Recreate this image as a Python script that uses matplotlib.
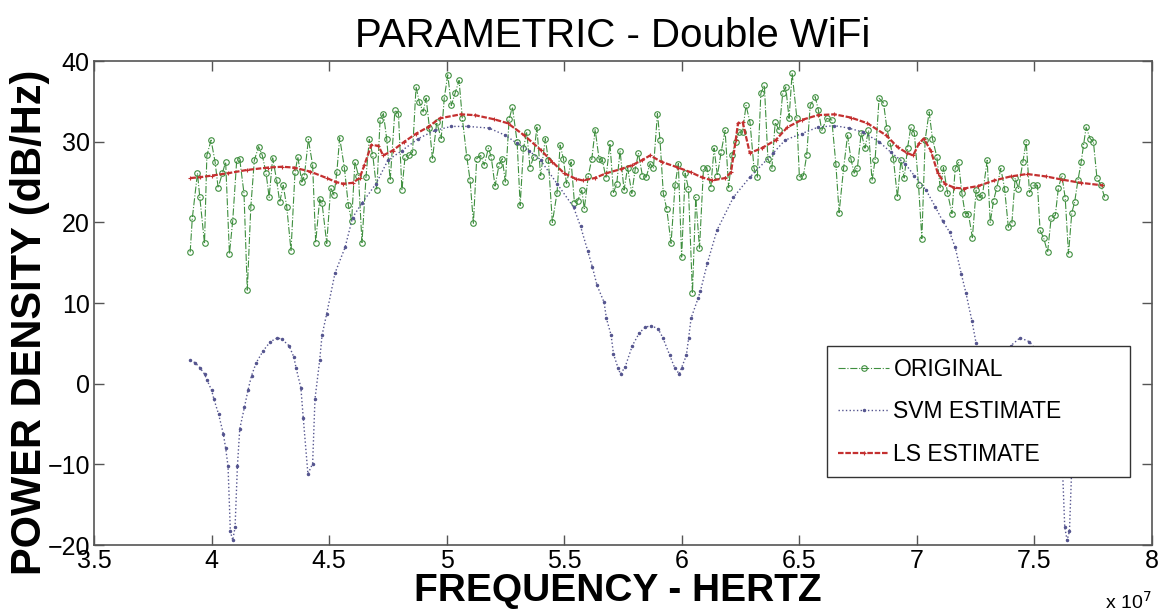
import matplotlib
matplotlib.use("Agg")
import matplotlib.pyplot as plt
from matplotlib.ticker import FuncFormatter

plt.rcParams['font.family'] = ['Liberation Sans', 'DejaVu Sans']

# frequencies in units of 1e7 Hz, power density in dB/Hz
orig_freq = [3.909, 3.918, 3.94, 3.95, 3.97, 3.98, 3.998, 4.015, 4.028, 4.046,
             4.06, 4.076, 4.09, 4.107, 4.12, 4.138, 4.152, 4.167, 4.182, 4.2,
             4.216, 4.232, 4.245, 4.26, 4.277, 4.29, 4.305, 4.32, 4.338, 4.355,
             4.367, 4.384, 4.395, 4.412, 4.43, 4.443, 4.46, 4.47, 4.49, 4.507,
             4.521, 4.533, 4.545, 4.565, 4.582, 4.596, 4.61, 4.625, 4.64, 4.657,
             4.671, 4.686, 4.703, 4.717, 4.731, 4.745, 4.76, 4.78, 4.795, 4.81,
             4.823, 4.84, 4.855, 4.87, 4.884, 4.9, 4.913, 4.927, 4.94, 4.958,
             4.977, 4.99, 5.005, 5.02, 5.036, 5.053, 5.067, 5.086, 5.1, 5.114,
             5.128, 5.145, 5.16, 5.178, 5.19, 5.206, 5.223, 5.237, 5.25, 5.266,
             5.28, 5.3, 5.313, 5.327, 5.341, 5.355, 5.37, 5.384, 5.4, 5.42,
             5.433, 5.45, 5.47, 5.483, 5.497, 5.51, 5.53, 5.544, 5.558, 5.575,
             5.586, 5.603, 5.618, 5.632, 5.649, 5.663, 5.678, 5.695, 5.71, 5.724,
             5.738, 5.755, 5.77, 5.788, 5.802, 5.816, 5.833, 5.849, 5.866, 5.88,
             5.897, 5.908, 5.922, 5.937, 5.955, 5.972, 5.986, 6.0, 6.015, 6.029,
             6.046, 6.06, 6.076, 6.093, 6.107, 6.124, 6.138, 6.152, 6.168, 6.185,
             6.2, 6.214, 6.23, 6.245, 6.259, 6.274, 6.291, 6.308, 6.322, 6.337,
             6.352, 6.367, 6.384, 6.398, 6.415, 6.43, 6.443, 6.457, 6.47, 6.49,
             6.501, 6.518, 6.532, 6.547, 6.568, 6.582, 6.596, 6.618, 6.639, 6.656,
             6.67, 6.689, 6.706, 6.72, 6.734, 6.748, 6.764, 6.78, 6.795, 6.81,
             6.823, 6.84, 6.859, 6.873, 6.887, 6.901, 6.918, 6.933, 6.947, 6.961,
             6.975, 6.99, 7.008, 7.022, 7.036, 7.053, 7.067, 7.086, 7.1, 7.114,
             7.131, 7.15, 7.164, 7.178, 7.192, 7.206, 7.22, 7.237, 7.253, 7.267,
             7.28, 7.3, 7.313, 7.327, 7.341, 7.358, 7.374, 7.39, 7.405, 7.419,
             7.433, 7.452, 7.466, 7.48, 7.497, 7.514, 7.525, 7.54, 7.557, 7.572,
             7.59, 7.603, 7.618, 7.632, 7.646, 7.66, 7.672, 7.686, 7.7, 7.71,
             7.721, 7.738, 7.752, 7.767, 7.784, 7.8]
orig_psd = [16.3, 20.5, 26.1, 23.1, 17.4, 28.3, 30.2, 27.5, 24.3, 26.1,
            27.5, 16.1, 20.2, 27.7, 27.8, 23.6, 11.6, 21.9, 27.7, 29.4,
            28.3, 26.1, 23.1, 28.0, 25.2, 22.5, 24.6, 21.9, 16.5, 26.2,
            28.1, 25.0, 25.8, 30.3, 27.1, 17.5, 22.9, 22.4, 17.4, 24.3,
            23.4, 26.2, 30.5, 26.8, 22.1, 20.2, 27.5, 25.8, 17.5, 25.6,
            30.3, 28.3, 24.0, 32.7, 33.5, 30.4, 25.2, 33.9, 33.5, 24.0,
            28.1, 28.3, 28.7, 36.8, 34.9, 33.7, 35.4, 31.7, 27.9, 32.4,
            30.4, 35.4, 38.3, 34.5, 36.0, 37.6, 32.9, 28.1, 25.2, 19.9,
            27.9, 28.3, 27.1, 29.2, 28.1, 24.5, 27.1, 27.9, 25.0, 32.8,
            34.3, 30.0, 22.1, 29.2, 31.2, 26.8, 28.1, 31.8, 25.8, 30.4,
            27.7, 20.0, 23.7, 29.6, 27.9, 24.8, 27.5, 22.4, 22.7, 24.0,
            21.7, 25.8, 27.9, 31.5, 27.8, 27.7, 25.5, 29.8, 23.7, 24.8,
            28.9, 24.0, 26.8, 23.6, 26.5, 28.6, 25.8, 25.6, 27.3, 26.7,
            33.5, 30.2, 23.6, 21.6, 17.4, 24.6, 27.3, 15.7, 26.1, 24.2,
            11.2, 23.1, 16.8, 26.7, 26.8, 24.3, 29.2, 25.8, 28.7, 31.4,
            24.3, 28.3, 30.0, 31.2, 31.2, 34.5, 32.4, 26.7, 25.6, 36.0,
            37.0, 27.9, 26.7, 32.4, 31.4, 36.0, 36.8, 32.9, 38.5, 33.0,
            25.6, 25.8, 28.3, 34.5, 35.6, 33.9, 31.4, 32.9, 32.7, 27.3,
            21.2, 26.7, 30.8, 27.9, 26.1, 26.8, 31.1, 29.2, 31.4, 25.2,
            27.7, 35.4, 34.8, 31.7, 29.8, 27.9, 23.1, 27.7, 25.5, 29.2,
            31.8, 31.1, 24.6, 18.0, 30.2, 33.7, 30.4, 28.1, 24.3, 26.8,
            23.7, 21.1, 26.7, 27.5, 23.7, 21.1, 21.1, 18.1, 24.0, 23.1,
            23.4, 27.7, 20.0, 22.7, 24.3, 26.7, 24.2, 19.4, 19.9, 25.5,
            24.2, 27.5, 30.0, 23.7, 24.6, 24.6, 19.0, 18.1, 16.3, 20.5,
            20.9, 24.3, 25.8, 23.0, 16.1, 21.2, 22.5, 25.2, 27.5, 29.6,
            31.8, 30.4, 30.0, 25.5, 24.6, 23.1]

svm_freq = [3.91, 3.93, 3.95, 3.97, 3.98, 4.0, 4.01, 4.03, 4.05, 4.06,
            4.07, 4.08, 4.09, 4.10, 4.11, 4.12, 4.14, 4.155, 4.17, 4.19,
            4.22, 4.25, 4.28, 4.30, 4.33, 4.35, 4.36, 4.38, 4.39, 4.41,
            4.43, 4.44, 4.46, 4.47, 4.49, 4.525, 4.568, 4.60, 4.64, 4.70,
            4.75, 4.81, 4.88, 4.95, 5.02, 5.09, 5.18, 5.25, 5.30, 5.35,
            5.40, 5.47, 5.54, 5.57, 5.60, 5.62, 5.64, 5.67, 5.68, 5.70,
            5.71, 5.73, 5.74, 5.76, 5.79, 5.82, 5.845, 5.87, 5.90, 5.92,
            5.95, 5.97, 5.99, 6.00, 6.02, 6.03, 6.04, 6.07, 6.08, 6.11,
            6.15, 6.22, 6.29, 6.39, 6.44, 6.51, 6.58, 6.65, 6.71, 6.77,
            6.84, 6.89, 6.95, 6.99, 7.04, 7.08, 7.11, 7.14, 7.164, 7.19,
            7.21, 7.235, 7.253, 7.27, 7.29, 7.30, 7.32, 7.34, 7.35, 7.37,
            7.40, 7.44, 7.48, 7.51, 7.54, 7.56, 7.575, 7.59, 7.61, 7.62,
            7.63, 7.64, 7.65, 7.66, 7.67, 7.68, 7.70, 7.72, 7.73, 7.75,
            7.76, 7.78, 7.80]
svm_psd = [2.9, 2.6, 2.0, 1.2, 0.5, -0.8, -1.9, -3.8, -6.2, -8.0,
           -10.2, -18.3, -19.4, -17.8, -10.2, -5.6, -2.9, -0.8, 1.0, 2.6,
           4.1, 5.2, 5.7, 5.5, 4.7, 3.3, 1.9, -0.5, -4.2, -11.2,
           -9.9, -1.9, 2.9, 6.0, 8.7, 13.7, 16.9, 20.6, 22.4, 24.8,
           27.7, 28.9, 30.4, 31.4, 31.9, 31.9, 31.7, 30.8, 29.8, 28.9,
           27.7, 24.8, 21.9, 19.5, 16.5, 14.5, 12.2, 10.1, 8.1, 6.0,
           3.7, 1.9, 1.2, 2.1, 4.7, 6.3, 7.0, 7.2, 6.8, 5.7,
           3.5, 2.0, 1.2, 2.0, 3.5, 5.7, 8.1, 10.6, 11.5, 15.0,
           19.0, 23.1, 25.6, 28.6, 30.2, 31.0, 31.8, 32.0, 31.7, 31.2,
           30.0, 28.7, 27.3, 25.8, 24.0, 21.9, 20.2, 18.8, 16.9, 13.6,
           11.2, 7.8, 5.0, 2.5, -0.5, -4.2, -11.2, -9.9, -1.9, 1.9,
           4.7, 5.7, 5.2, 4.1, 2.6, 1.0, -0.8, -2.9, -5.6, -10.2,
           -17.8, -19.4, -18.3, -10.2, -8.0, -6.2, -3.8, -1.9, -0.8, 0.5,
           1.2, 2.0, 2.6]

ls_freq = [3.91, 3.95, 4.0, 4.07, 4.15, 4.24, 4.30, 4.35, 4.42, 4.49,
           4.53, 4.56, 4.60, 4.63, 4.65, 4.68, 4.71, 4.73, 4.77, 4.82,
           4.87, 4.92, 4.97, 5.06, 5.12, 5.20, 5.26, 5.33, 5.40, 5.45,
           5.50, 5.55, 5.58, 5.63, 5.68, 5.74, 5.79, 5.83, 5.866, 5.915,
           5.985, 6.04, 6.085, 6.13, 6.185, 6.21, 6.23, 6.24, 6.26, 6.29,
           6.34, 6.40, 6.45, 6.51, 6.58, 6.65, 6.72, 6.79, 6.87, 6.92,
           6.96, 6.985, 7.01, 7.03, 7.06, 7.09, 7.12, 7.16, 7.20, 7.26,
           7.33, 7.40, 7.47, 7.55, 7.62, 7.70, 7.79]
ls_psd = [25.5, 25.6, 25.8, 26.1, 26.5, 26.8, 26.9, 26.8, 26.3, 25.5,
          25.0, 24.8, 24.9, 25.5, 27.1, 29.6, 29.5, 28.3, 28.9, 30.0,
          31.0, 31.8, 32.9, 33.4, 33.3, 32.8, 32.3, 30.8, 29.0, 27.5,
          26.1, 25.4, 25.2, 25.5, 26.1, 26.6, 27.1, 27.7, 28.3, 27.5,
          26.8, 26.2, 25.6, 25.2, 25.5, 26.2, 30.2, 32.3, 32.4, 28.6,
          29.2, 30.2, 31.8, 32.7, 33.3, 33.4, 33.0, 32.3, 30.8, 29.3,
          28.6, 28.3, 29.8, 30.4, 28.9, 26.1, 24.8, 24.3, 24.2, 24.5,
          25.2, 25.7, 26.0, 25.7, 25.3, 24.9, 24.6]

x_ticks = [3.5, 4, 4.5, 5, 5.5, 6, 6.5, 7, 7.5, 8]
y_ticks = [-20, -10, 0, 10, 20, 30, 40]

fig = plt.figure(figsize=(11.61, 6.11), dpi=100)
ax = fig.add_axes([0.081, 0.108, 0.911, 0.792])

ax.plot(orig_freq, orig_psd, color='#3f8f3f', linestyle='-.', linewidth=0.8,
        marker='o', markersize=4, markerfacecolor='none', markeredgewidth=0.8,
        label='ORIGINAL')
ax.plot(svm_freq, svm_psd, color='#55558f', linestyle=':', linewidth=1.0,
        marker='.', markersize=3, label='SVM ESTIMATE')
ax.plot(ls_freq, ls_psd, color='#c43030', linestyle='--', linewidth=1.6,
        dashes=(2.5, 0.8), marker='+', markersize=3, markeredgewidth=0.8,
        label='LS ESTIMATE')

ax.set_xlim(3.5, 8)
ax.set_ylim(-20, 40)
ax.set_xticks(x_ticks)
ax.set_yticks(y_ticks)
ax.xaxis.set_major_formatter(FuncFormatter(lambda v, p: f'{v:g}'))
ax.tick_params(direction='in', top=True, right=True, length=7, width=1,
               labelsize=18, color='#555555', pad=3)
for s in ax.spines.values():
    s.set_color('#555555')
    s.set_linewidth(1.2)

ax.set_title('PARAMETRIC - Double WiFi', fontsize=29, pad=10, x=0.49)
ax.set_xlabel('FREQUENCY - HERTZ', fontsize=28, fontweight='bold', labelpad=0,
              x=0.495)
ax.set_ylabel('POWER DENSITY (dB/Hz)', fontsize=30, fontweight='bold')
ax.yaxis.set_label_coords(-0.042, 0.46)
ax.text(1.0, -0.095, r'x 10$^7$', transform=ax.transAxes, fontsize=14,
        ha='right', va='top')

leg = ax.legend(loc='lower left', bbox_to_anchor=(0.693, 0.140, 0.286, 0.27),
                mode='expand', borderaxespad=0, fontsize=16.5, fancybox=False,
                framealpha=1, edgecolor='#333333', handlelength=2.2,
                handletextpad=0.2, labelspacing=0.85, borderpad=0.5)
leg.get_frame().set_linewidth(1.0)

fig.savefig('out.png', dpi=100)
